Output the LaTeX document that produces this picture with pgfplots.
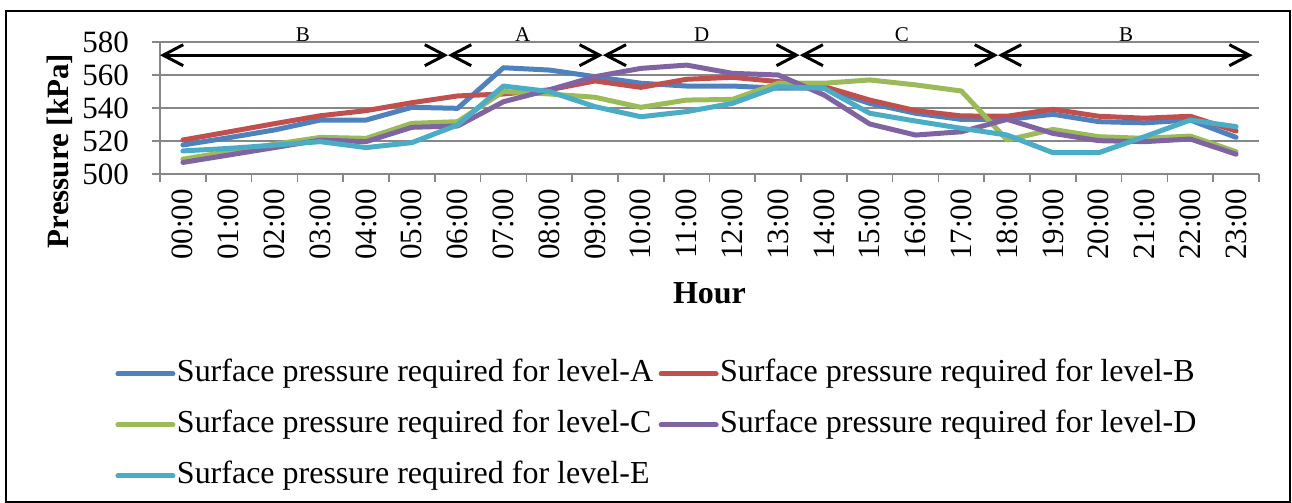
\documentclass[border=0pt]{standalone}
\usepackage{fontspec}
\setmainfont{Liberation Serif}
\usepackage{pgfplots}
\pgfplotsset{compat=1.18}
\usetikzlibrary{arrows.meta}
\definecolor{sA}{HTML}{4F81BD}
\definecolor{sB}{HTML}{C0504D}
\definecolor{sC}{HTML}{9BBB59}
\definecolor{sD}{HTML}{8064A2}
\definecolor{sE}{HTML}{4BACC6}
\definecolor{axgray}{HTML}{878787}
\pgfplotstableread{
x A B C D E
0  517.6 520.6 509.0 507.0 514.0
1  522.0 525.5 513.5 511.5 515.5
2  526.7 530.5 518.0 516.0 517.5
3  532.7 535.3 522.2 520.6 519.6
4  532.7 538.4 521.6 519.6 516.0
5  540.4 543.2 530.7 528.3 519.0
6  539.8 547.3 531.7 529.1 529.7
7  564.4 548.5 550.0 543.8 553.3
8  563.0 551.0 548.5 551.0 550.0
9  559.0 556.4 546.5 559.0 540.8
10 555.0 552.5 540.4 564.0 534.7
11 553.3 557.4 544.8 566.0 537.8
12 553.3 558.6 545.2 561.0 542.8
13 552.0 556.0 555.0 560.0 552.9
14 552.0 553.0 555.0 547.9 552.0
15 542.8 544.8 557.0 530.3 536.8
16 536.8 538.4 554.0 523.6 532.1
17 533.1 535.2 550.3 525.6 527.7
18 533.0 535.0 520.6 533.1 523.6
19 536.2 539.2 527.0 524.6 512.9
20 531.7 535.0 522.6 520.2 512.9
21 531.0 533.8 521.6 519.6 522.6
22 532.7 535.0 523.0 521.2 532.7
23 522.2 526.0 513.5 512.0 528.7
}\data
\begin{document}
\begin{tikzpicture}[x=1pt,y=1pt]
\useasboundingbox (0,0) rectangle (646,251.5);
\draw[line width=1pt] (3,0.6) rectangle (645,246);
\node[rotate=90, font=\fontsize{15.5}{18}\selectfont\bfseries] at (30,176) {Pressure [kPa]};
\begin{axis}[
  at={(80pt,164.5pt)}, anchor=south west,
  scale only axis, width=549.5pt, height=66pt,
  xmin=-0.5, xmax=23.5, ymin=500, ymax=580,
  clip=false,
  axis lines=left,
  axis line style={-, axgray, line width=0.8pt},
  ytick={500,520,540,560,580},
  xtick={-0.5,0.5,...,23.5},
  x tick label as interval,
  xticklabels={00:00,01:00,02:00,03:00,04:00,05:00,06:00,07:00,08:00,09:00,10:00,11:00,12:00,13:00,14:00,15:00,16:00,17:00,18:00,19:00,20:00,21:00,22:00,23:00},
  xticklabel style={rotate=90, anchor=east, font=\fontsize{15.5}{18}\selectfont, yshift=0pt},
  yticklabel style={font=\fontsize{15.5}{18}\selectfont, xshift=-8pt},
  /pgf/number format/assume math mode=true,
  tick align=outside,
  major tick length=4pt,
  tick style={axgray, line width=0.8pt},
  ymajorgrids,
  grid style={axgray, line width=0.8pt},
  xlabel={Hour},
  xlabel style={font=\fontsize{16}{19}\selectfont\bfseries, at={(axis description cs:0.5,0)}, anchor=center, yshift=-59.5pt},
  legend columns=2,
  legend cell align=left,
  legend image code/.code={\draw[#1] (0pt,0pt) -- (27.5pt,0pt);},
  legend style={draw=none, fill=none, inner sep=0pt,
    at={(axis description cs:-0.0409,-1.4015)}, anchor=north west,
    font=\fontsize{16}{19}\selectfont,
    nodes={inner xsep=0.75pt, inner ysep=0pt, text height=11pt, text depth=3.5pt},
    column sep=0pt, row sep=11pt,
    /tikz/every even column/.append style={column sep=2pt}},
  every axis plot/.append style={line width=2.5pt, line cap=round, line join=round},
]
\addplot[sA] table[x=x,y=A] {\data};
\addlegendentry{Surface pressure required for level-A}
\addplot[sB] table[x=x,y=B] {\data};
\addlegendentry{Surface pressure required for level-B}
\addplot[sC] table[x=x,y=C] {\data};
\addlegendentry{Surface pressure required for level-C}
\addplot[sD] table[x=x,y=D] {\data};
\addlegendentry{Surface pressure required for level-D}
\addplot[sE] table[x=x,y=E] {\data};
\addlegendentry{Surface pressure required for level-E}
\tikzset{seg/.style={line width=1.5pt, {Straight Barb[length=10pt,width=10.5pt]}-{Straight Barb[length=10pt,width=10.5pt]}}}
\draw[seg] (axis cs:-0.5,572) -- (axis cs:5.79,572);
\draw[seg] (axis cs:5.79,572) -- (axis cs:9.17,572);
\draw[seg] (axis cs:9.17,572) -- (axis cs:13.47,572);
\draw[seg] (axis cs:13.47,572) -- (axis cs:17.8,572);
\draw[seg] (axis cs:17.8,572) -- (axis cs:23.36,572);
\begin{scope}[every node/.style={font=\fontsize{10.5}{12}\selectfont}]
\node at (axis cs:2.62,584.2) {B};
\node at (axis cs:7.42,584.2) {A};
\node at (axis cs:11.33,584.2) {D};
\node at (axis cs:15.7,584.2) {C};
\node at (axis cs:20.6,584.2) {B};
\end{scope}
\end{axis}
\end{tikzpicture}
\end{document}
